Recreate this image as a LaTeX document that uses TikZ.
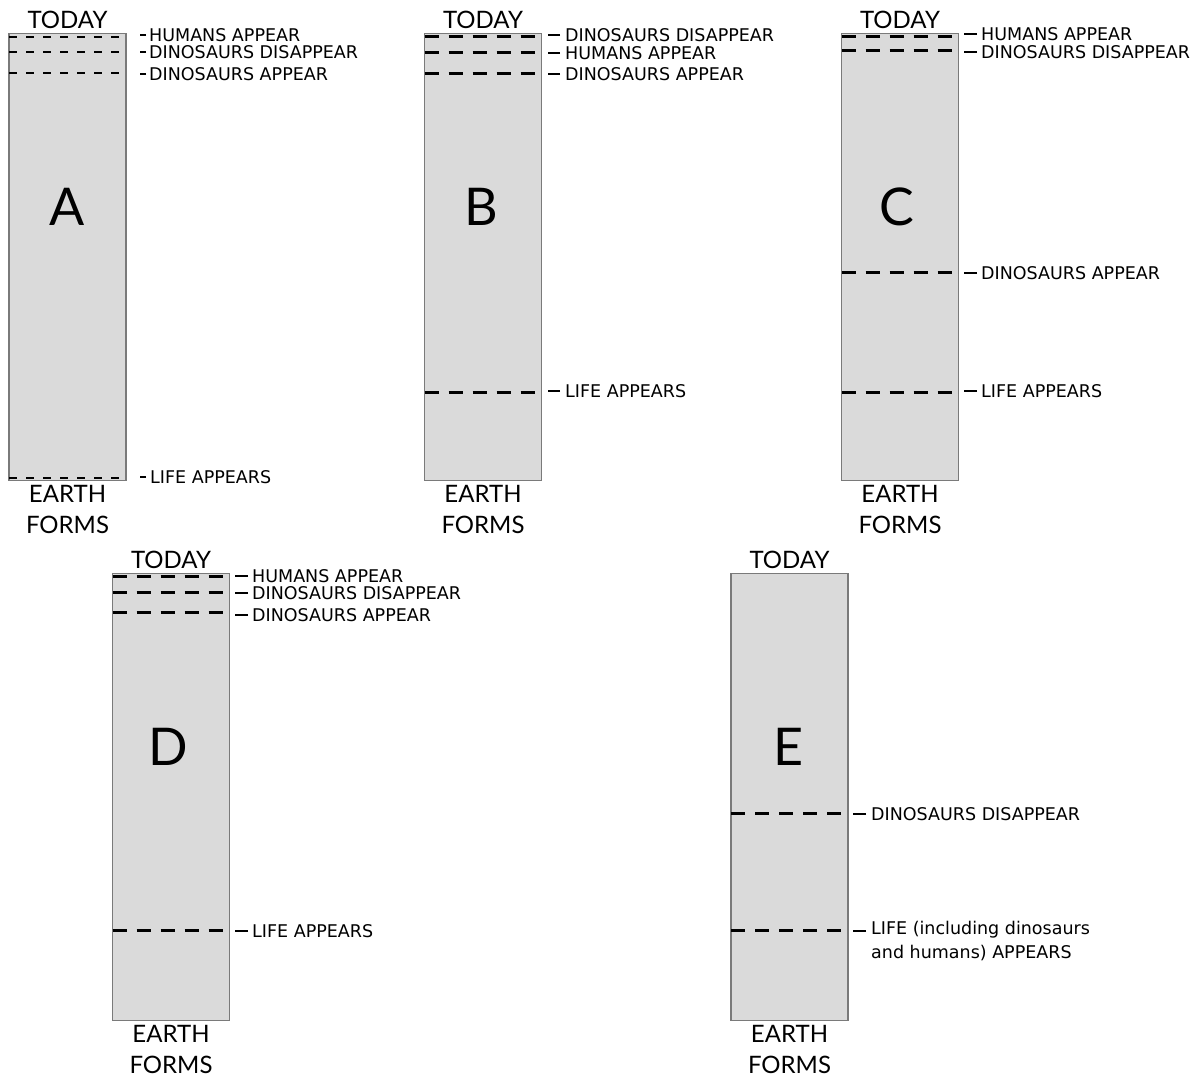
\documentclass[tikz,border=0pt]{standalone}
\usepackage{fontspec}
\setmainfont{DejaVu Sans}
\newfontfamily\headfont{Lato}
\usetikzlibrary{positioning,calc}
\definecolor{colfill}{HTML}{DADADA}
\definecolor{coldraw}{HTML}{7A7A7A}

\begin{document}
\begin{tikzpicture}[x=1pt,y=-1pt,
				column/.style={draw=coldraw,line width=1.5pt,fill=colfill,minimum width=117pt,minimum height=447pt,inner sep=0pt,outer sep=0pt},
				era/.style={line width=2.3pt,dash pattern=on 14pt off 10pt},
				erashort/.style={line width=2pt,dash pattern=on 8pt off 9pt},
				event/.style={anchor=west,inner sep=0pt,font=\fontsize{17.5}{24}\selectfont,align=left},
				tick/.style={line width=2pt},
				caption/.style={font=\headfont\fontsize{24}{31}\selectfont,inner sep=0pt,align=center},
				bigletter/.style={font=\headfont\fontsize{52}{52}\selectfont,inner sep=0pt}]
				\useasboundingbox (0,0) rectangle (1198,1078);
				% top row
				\node[column] (colA) at (67.5,257) {};
				\node[column] (colB) at (483,257) {};
				\node[column] (colC) at (900,257) {};
				% bottom row
				\node[column] (colD) at (171,797) {};
				\node[column] (colE) at (789.5,797) {};

				\node[bigletter] (letA) at (67,207)  {A};
				\node[bigletter] (letB) at (481,207) {B};
				\node[bigletter] (letC) at (897,207) {C};
				\node[bigletter] (letD) at (168,747) {D};
				\node[bigletter] (letE) at (789,747) {E};

				\node[caption] (todayA) [above=5pt of colA] {TODAY};
				\node[caption] (todayB) [above=5pt of colB] {TODAY};
				\node[caption] (todayC) [above=5pt of colC] {TODAY};
				\node[caption] (todayD) [above=5pt of colD] {TODAY};
				\node[caption] (todayE) [above=5pt of colE] {TODAY};
				\node[caption] (earthA) [below=5pt of colA] {EARTH\\FORMS};
				\node[caption] (earthB) [below=5pt of colB] {EARTH\\FORMS};
				\node[caption] (earthC) [below=5pt of colC] {EARTH\\FORMS};
				\node[caption] (earthD) [below=5pt of colD] {EARTH\\FORMS};
				\node[caption] (earthE) [below=5pt of colE] {EARTH\\FORMS};

				% A
				\node[event] (humA)  at (149,35)  {HUMANS APPEAR};
				\node[event] (disA)  at (149,52)  {DINOSAURS DISAPPEAR};
				\node[event] (dinoA) at (149,74)  {DINOSAURS APPEAR};
				\node[event] (lifeA) at (150,477) {LIFE APPEARS};
				\draw[erashort] ([yshift=-4pt]colA.north west) -- ([yshift=-4pt]colA.north east);
				\draw[erashort] ([yshift=-19pt]colA.north west) -- ([yshift=-19pt]colA.north east);
				\draw[erashort] ([yshift=-40pt]colA.north west) -- ([yshift=-40pt]colA.north east);
				\draw[erashort] ([yshift=3pt]colA.south west) -- ([yshift=3pt]colA.south east);
				\draw[tick] ([xshift=-3pt]humA.west) -- ++(-6,0) ([xshift=-3pt]disA.west) -- ++(-6,0)
					([xshift=-3pt]dinoA.west) -- ++(-6,0) ([xshift=-4pt]lifeA.west) -- ++(-6,0);

				% B
				\node[event] (disB)  at (565,35)  {DINOSAURS DISAPPEAR};
				\node[event] (humB)  at (565,53)  {HUMANS APPEAR};
				\node[event] (dinoB) at (565,74)  {DINOSAURS APPEAR};
				\node[event] (lifeB) at (565,391) {LIFE APPEARS};
				\draw[era] ([yshift=-3pt]colB.north west) -- ([yshift=-3pt]colB.north east);
				\draw[era] ([yshift=-19pt]colB.north west) -- ([yshift=-19pt]colB.north east);
				\draw[era] ([yshift=-40pt]colB.north west) -- ([yshift=-40pt]colB.north east);
				\draw[era] ([yshift=-359pt]colB.north west) -- ([yshift=-359pt]colB.north east);
				\draw[tick] ([xshift=-5pt]disB.west) -- ++(-12,0) ([xshift=-5pt]humB.west) -- ++(-12,0)
					([xshift=-5pt]dinoB.west) -- ++(-12,0) ([xshift=-5pt]lifeB.west) -- ++(-12,0);

				% C
				\node[event] (humC)  at (981,34)  {HUMANS APPEAR};
				\node[event] (disC)  at (981,52)  {DINOSAURS DISAPPEAR};
				\node[event] (dinoC) at (981,273) {DINOSAURS APPEAR};
				\node[event] (lifeC) at (981,391) {LIFE APPEARS};
				\draw[era] ([yshift=-3pt]colC.north west) -- ([yshift=-3pt]colC.north east);
				\draw[era] ([yshift=-17pt]colC.north west) -- ([yshift=-17pt]colC.north east);
				\draw[era] ([yshift=-239pt]colC.north west) -- ([yshift=-239pt]colC.north east);
				\draw[era] ([yshift=-359pt]colC.north west) -- ([yshift=-359pt]colC.north east);
				\draw[tick] ([xshift=-4pt]humC.west) -- ++(-13,0) ([xshift=-4pt]disC.west) -- ++(-13,0)
					([xshift=-4pt]dinoC.west) -- ++(-13,0) ([xshift=-4pt]lifeC.west) -- ++(-13,0);

				% D
				\node[event] (humD)  at (252,576) {HUMANS APPEAR};
				\node[event] (disD)  at (252,593) {DINOSAURS DISAPPEAR};
				\node[event] (dinoD) at (252,615) {DINOSAURS APPEAR};
				\node[event] (lifeD) at (252,931) {LIFE APPEARS};
				\draw[era] ([yshift=-3pt]colD.north west) -- ([yshift=-3pt]colD.north east);
				\draw[era] ([yshift=-19pt]colD.north west) -- ([yshift=-19pt]colD.north east);
				\draw[era] ([yshift=-39pt]colD.north west) -- ([yshift=-39pt]colD.north east);
				\draw[era] ([yshift=-357pt]colD.north west) -- ([yshift=-357pt]colD.north east);
				\draw[tick] ([xshift=-4pt]humD.west) -- ++(-13,0) ([xshift=-4pt]disD.west) -- ++(-13,0)
					([xshift=-4pt]dinoD.west) -- ++(-13,0) ([xshift=-4pt]lifeD.west) -- ++(-13,0);

				% E
				\node[event] (disE)  at (871,814) {DINOSAURS DISAPPEAR};
				\node[event,anchor=north west] (lifeE) at (871,921) {LIFE (including dinosaurs\\and humans) APPEARS};
				\draw[era] ([yshift=-240pt]colE.north west) -- ([yshift=-240pt]colE.north east);
				\draw[era] ([yshift=-357pt]colE.north west) -- ([yshift=-357pt]colE.north east);
				\draw[tick] ([xshift=-5pt]disE.west) -- ++(-13,0) ([xshift=-5pt,yshift=-10pt]lifeE.north west) -- ++(-13,0);
			\end{tikzpicture}
\end{document}
